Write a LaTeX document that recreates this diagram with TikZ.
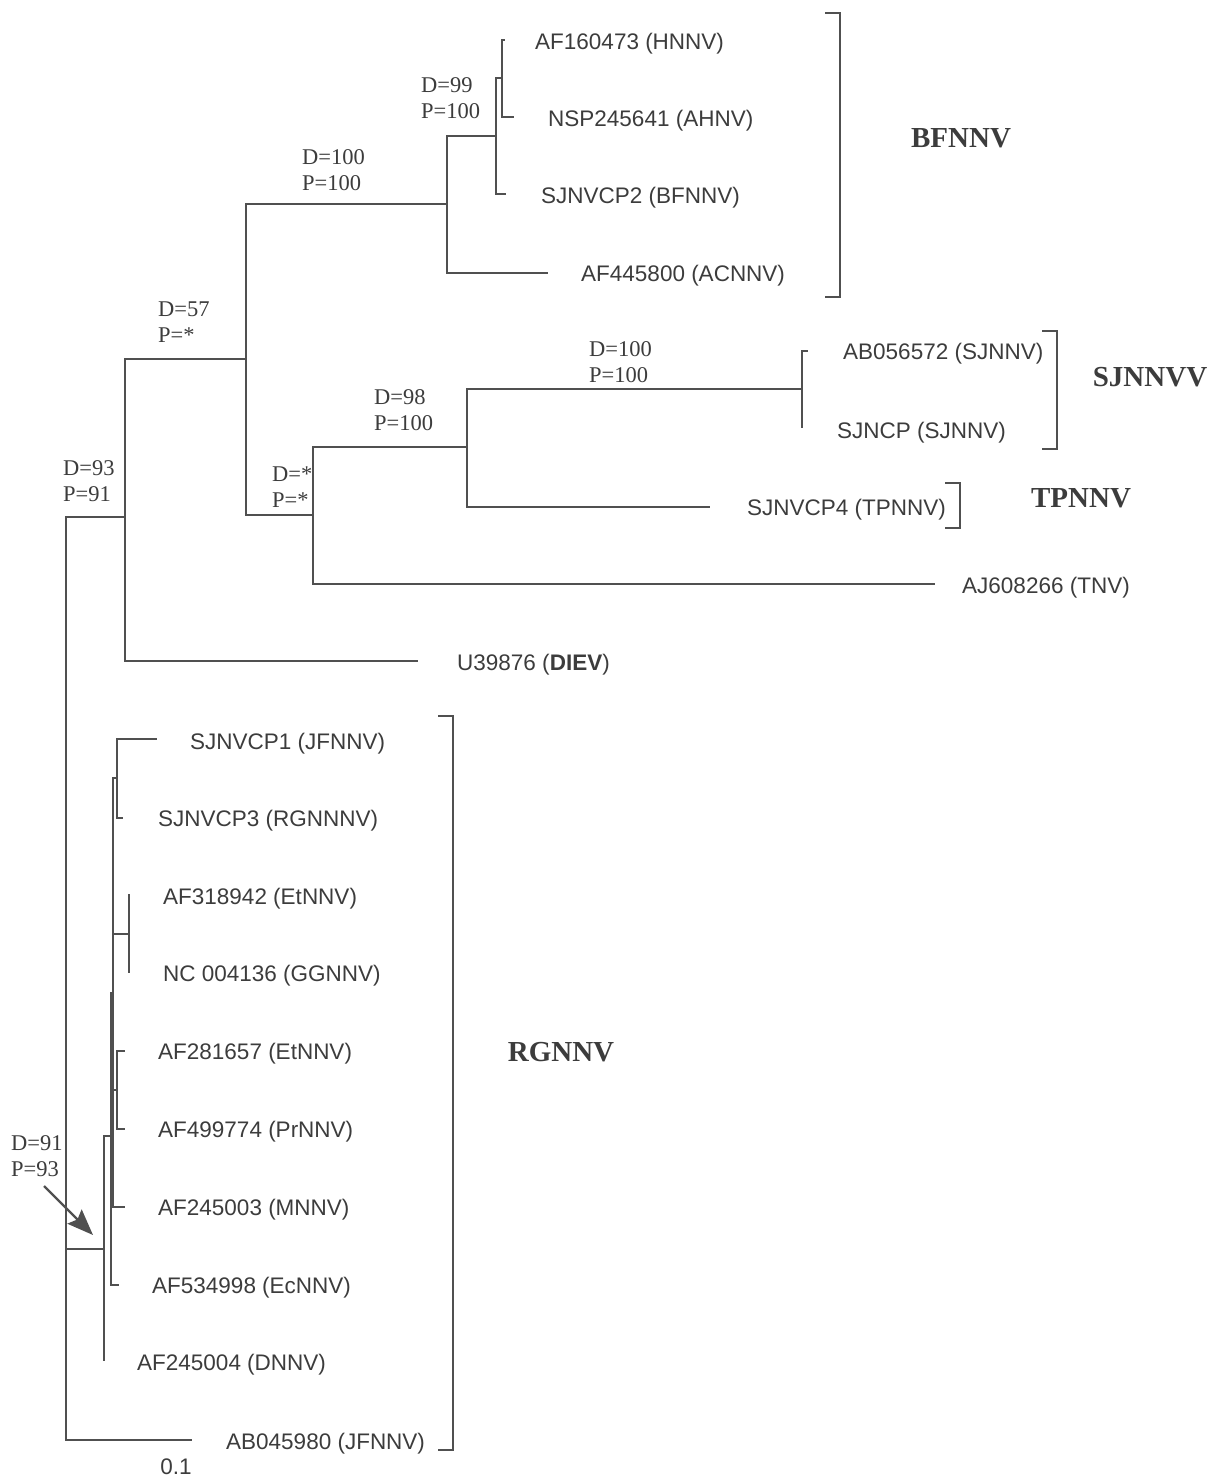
\documentclass[tikz,border=0pt]{standalone}
\usepackage{fontspec}
\setmainfont{Liberation Serif}
\setsansfont{Liberation Sans}
\usetikzlibrary{arrows.meta}
\definecolor{lc}{HTML}{505050}
\definecolor{tc}{HTML}{3C3C3C}
\begin{document}
\begin{tikzpicture}[x=1pt,y=-1pt,
  br/.style={draw=lc, line width=1.4pt},
  brk/.style={draw=lc, line width=1.6pt},
  leaf/.style={anchor=west, inner sep=0pt, yshift=-2.5pt, font=\sffamily\fontsize{22.5}{26}\selectfont, text=tc},
  supp/.style={anchor=west, inner sep=0pt, yshift=-2pt, align=left, font=\fontsize{22.5}{26}\selectfont, text=tc},
  grp/.style={inner sep=0pt, yshift=-1pt, font=\bfseries\fontsize{29}{34}\selectfont, text=tc}]
\useasboundingbox (0,0) rectangle (1216,1479);

% internal nodes
\coordinate (root) at (66,978);
\coordinate (nA) at (125,517);
\coordinate (nB) at (246,359);
\coordinate (nC) at (447,204);
\coordinate (nD) at (496,136);
\coordinate (nE) at (502,78);
\coordinate (nF) at (313,515);
\coordinate (nG) at (467,447);
\coordinate (nH) at (802,389);
\coordinate (n91) at (104,1249);
\coordinate (nR2) at (111,1136);
\coordinate (nR3) at (113,993);
\coordinate (nR4) at (117,778);
\coordinate (nR5) at (129,934);
\coordinate (nR6) at (117,1090);

% tips
\coordinate (tHN) at (505,40);
\coordinate (tAH) at (514,117);
\coordinate (tBF) at (506,194);
\coordinate (tAC) at (548,273);
\coordinate (tAB) at (808,351);
\coordinate (tSJ) at (802,428);
\coordinate (tTP) at (710,507);
\coordinate (tTN) at (935,584);
\coordinate (tDI) at (418,661);
\coordinate (tJF) at (192,1440);
\coordinate (t1) at (157,739);
\coordinate (t3) at (123,818);
\coordinate (tEt) at (129,894);
\coordinate (tNC) at (129,973);
\coordinate (tEt2) at (125,1051);
\coordinate (tPr) at (125,1129);
\coordinate (tMN) at (125,1207);
\coordinate (tEc) at (119,1285);
\coordinate (tDN) at (104,1361);

% branches
\draw[br] (root) |- (nA);
\draw[br] (root) |- (n91);
\draw[br] (root) |- (tJF);
\draw[br] (nA) |- (nB);
\draw[br] (nA) |- (tDI);
\draw[br] (nB) |- (nC);
\draw[br] (nB) |- (nF);
\draw[br] (nC) |- (nD);
\draw[br] (nC) |- (tAC);
\draw[br] (nD) |- (nE);
\draw[br] (nD) |- (tBF);
\draw[br] (nE) |- (tHN);
\draw[br] (nE) |- (tAH);
\draw[br] (nF) |- (nG);
\draw[br] (nF) |- (tTN);
\draw[br] (nG) |- (nH);
\draw[br] (nG) |- (tTP);
\draw[br] (nH) |- (tAB);
\draw[br] (nH) |- (tSJ);
\draw[br] (n91) |- (nR2);
\draw[br] (n91) |- (tDN);
\draw[br] (nR2) |- (nR3);
\draw[br] (nR2) |- (tEc);
\draw[br] (nR3) |- (nR4);
\draw[br] (nR3) |- (nR5);
\draw[br] (nR3) |- (nR6);
\draw[br] (nR3) |- (tMN);
\draw[br] (nR4) |- (t1);
\draw[br] (nR4) |- (t3);
\draw[br] (nR5) |- (tEt);
\draw[br] (nR5) |- (tNC);
\draw[br] (nR6) |- (tEt2);
\draw[br] (nR6) |- (tPr);

% leaf labels
\node[leaf] (lHN) at (535,41) {AF160473 (HNNV)};
\node[leaf] (lAH) at (548,118) {NSP245641 (AHNV)};
\node[leaf] (lBF) at (541,195) {SJNVCP2 (BFNNV)};
\node[leaf] (lAC) at (581,273) {AF445800 (ACNNV)};
\node[leaf] (lAB) at (843,351) {AB056572 (SJNNV)};
\node[leaf] (lSJ) at (837,430) {SJNCP (SJNNV)};
\node[leaf] (lTP) at (747,507) {SJNVCP4 (TPNNV)};
\node[leaf] (lTN) at (962,585) {AJ608266 (TNV)};
\node[leaf] (lDI) at (457,662) {U39876 (\textbf{DIEV})};
\node[leaf] (l1) at (190,741) {SJNVCP1 (JFNNV)};
\node[leaf] (l3) at (158,818) {SJNVCP3 (RGNNNV)};
\node[leaf] (lEt) at (163,896) {AF318942 (EtNNV)};
\node[leaf] (lNC) at (163,973) {NC 004136 (GGNNV)};
\node[leaf] (lEt2) at (158,1051) {AF281657 (EtNNV)};
\node[leaf] (lPr) at (158,1129) {AF499774 (PrNNV)};
\node[leaf] (lMN) at (158,1207) {AF245003 (MNNV)};
\node[leaf] (lEc) at (152,1285) {AF534998 (EcNNV)};
\node[leaf] (lDN) at (137,1362) {AF245004 (DNNV)};
\node[leaf] (lJF) at (226,1441) {AB045980 (JFNNV)};
\node[leaf, anchor=center] (scale) at (176,1464) {0.1};

% support values
\node[supp] (s99) at (421,96) {D=99\\P=100};
\node[supp] (s100a) at (302,168) {D=100\\P=100};
\node[supp] (s57) at (158,320) {D=57\\P=*};
\node[supp] (s98) at (374,408) {D=98\\P=100};
\node[supp] (s100b) at (589,360) {D=100\\P=100};
\node[supp] (sst) at (272,485) {D=*\\P=*};
\node[supp] (s93) at (63,479) {D=93\\P=91};
\node[supp] (s91) at (11,1154) {D=91\\P=93};

% arrow
\coordinate (arS) at (44,1186);
\coordinate (arE) at (93,1235);
\draw[draw=lc, line width=2.4pt, -{Stealth[length=26pt,width=20pt,inset=4pt]}] (arS) -- (arE);

% brackets
\draw[brk] (825,13) -- (840,13) -- (840,297) -- (825,297);
\draw[brk] (1042,331) -- (1057,331) -- (1057,449) -- (1042,449);
\draw[brk] (945,483) -- (960,483) -- (960,528) -- (945,528);
\draw[brk] (438,716) -- (453,716) -- (453,1450) -- (438,1450);

% group labels
\node[grp] (gBF) at (961,137) {BFNNV};
\node[grp] (gSJ) at (1150,376) {SJNNVV};
\node[grp] (gTP) at (1081,497) {TPNNV};
\node[grp] (gRG) at (561,1051) {RGNNV};
\end{tikzpicture}
\end{document}
